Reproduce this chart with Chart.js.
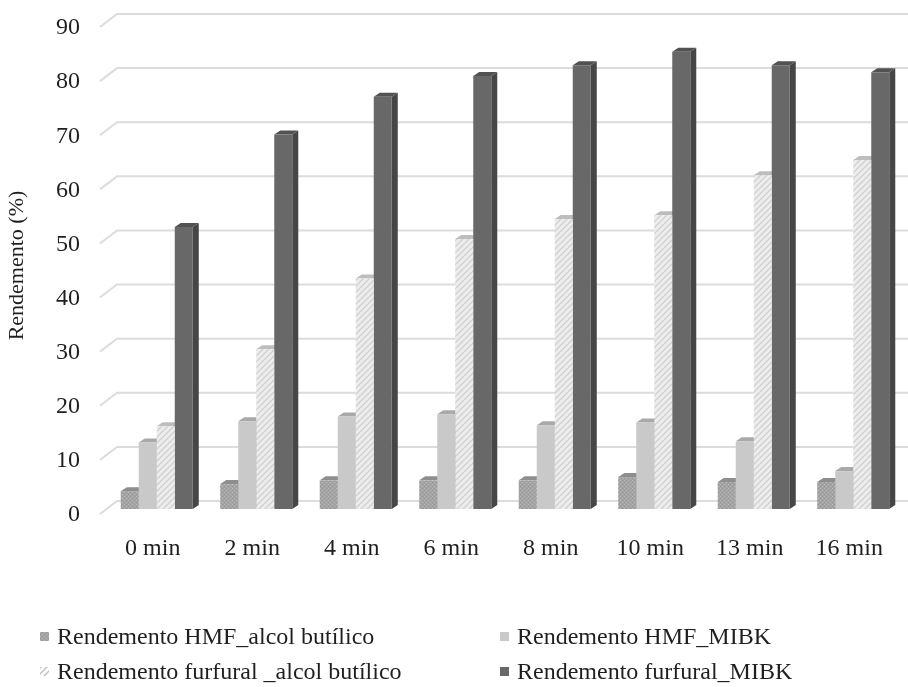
<!DOCTYPE html>
<html>
<head>
<meta charset="utf-8">
<script src="https://cdn.jsdelivr.net/npm/chart.js@4/dist/chart.umd.min.js"></script>
<style>
  html, body { margin: 0; padding: 0; background: #ffffff; }
  #wrap { width: 908px; height: 687px; }
</style>
</head>
<body>
<div id="wrap"><canvas id="c" width="908" height="687"></canvas></div>
<script>
// Reaction time categories
const categories = ['0 min', '2 min', '4 min', '6 min', '8 min', '10 min', '13 min', '16 min'];

// Yields (%) per series
const hmfButanol      = [3.3, 4.6, 5.3, 5.3, 5.3, 5.9, 5.0, 5.0];
const hmfMibk         = [12.3, 16.2, 17.1, 17.5, 15.5, 16.0, 12.5, 7.0];
const furfuralButanol = [15.3, 29.5, 42.6, 49.9, 53.6, 54.3, 61.7, 64.5];
const furfuralMibk    = [52.1, 69.2, 76.2, 80.0, 82.0, 84.5, 82.0, 80.7];

const seriesNames = [
  'Rendemento HMF_alcol butílico',
  'Rendemento HMF_MIBK',
  'Rendemento furfural _alcol butílico',
  'Rendemento furfural_MIBK'
];

// Value axis ticks
const yTicks = [0, 10, 20, 30, 40, 50, 60, 70, 80, 90];

const SERIF = "'Liberation Serif', 'DejaVu Serif', serif";
const TEXT = '#1f1f1f';

// Fill patterns
function stipplePattern() {
  const c = document.createElement('canvas');
  c.width = 4; c.height = 4;
  const g = c.getContext('2d');
  g.fillStyle = '#a3a3a3'; g.fillRect(0, 0, 4, 4);
  g.fillStyle = '#bababa'; g.fillRect(0, 0, 1, 1); g.fillRect(2, 2, 1, 1);
  g.fillStyle = '#989898'; g.fillRect(2, 0, 1, 1); g.fillRect(0, 2, 1, 1);
  return g.createPattern(c, 'repeat');
}
function hatchPattern(bg, fg) {
  const c = document.createElement('canvas');
  c.width = 6; c.height = 6;
  const g = c.getContext('2d');
  g.fillStyle = bg; g.fillRect(0, 0, 6, 6);
  g.strokeStyle = fg; g.lineWidth = 1.3;
  g.beginPath();
  g.moveTo(-1, 7); g.lineTo(7, -1);
  g.moveTo(-4, 4); g.lineTo(4, -4);
  g.moveTo(2, 10); g.lineTo(10, 2);
  g.stroke();
  return g.createPattern(c, 'repeat');
}

// Face styles: front fill, top face, side face
const faceStyles = [
  { front: stipplePattern(),                    top: '#8e8e8e', side: '#7a7a7a' },
  { front: '#c9c9c9',                           top: '#a9a9a9', side: '#9d9d9d' },
  { front: hatchPattern('#ededed', '#d0d0d0'),  top: '#bdbdbd', side: '#b0b0b0' },
  { front: '#686868',                           top: '#525252', side: '#464646' }
];
const legendSwatch = [faceStyles[0].front, faceStyles[1].front, hatchPattern('#ffffff', '#bdbdbd'), faceStyles[3].front];

// Oblique depth of the 3D look
const BAR_DX = 6, BAR_DY = 4;          // bar top/side faces
const BACK_DX = 10, BACK_DY = -8;      // back wall relative to bar plane
const FRONT_DX = -7, FRONT_DY = 5;     // front edge relative to bar plane

// Back-wall gridlines with their floor diagonals, then bar top/side faces
const wallPlugin = {
  id: 'wall',
  beforeDatasetsDraw(chart) {
    const { ctx, chartArea } = chart;
    const y = chart.scales.y;
    ctx.save();
    ctx.strokeStyle = '#dcdcdc';
    ctx.lineWidth = 2;
    yTicks.forEach(v => {
      const py = y.getPixelForValue(v);
      const fx = chartArea.left + FRONT_DX, fy = py + FRONT_DY;
      const bx = chartArea.left + BACK_DX, by = py + BACK_DY;
      ctx.beginPath();
      ctx.moveTo(fx, fy);
      ctx.lineTo(bx, by);
      ctx.lineTo(chart.width, by);
      ctx.stroke();
    });
    ctx.restore();

    ctx.save();
    chart.data.datasets.forEach((ds, di) => {
      const meta = chart.getDatasetMeta(di);
      const st = faceStyles[di];
      meta.data.forEach(bar => {
        const p = bar.getProps(['x', 'y', 'base', 'width'], true);
        const l = p.x - p.width / 2, r = p.x + p.width / 2;
        ctx.fillStyle = st.side;
        ctx.beginPath();
        ctx.moveTo(r, p.y);
        ctx.lineTo(r + BAR_DX, p.y - BAR_DY);
        ctx.lineTo(r + BAR_DX, p.base - BAR_DY);
        ctx.lineTo(r, p.base);
        ctx.closePath();
        ctx.fill();
        ctx.fillStyle = st.top;
        ctx.beginPath();
        ctx.moveTo(l, p.y);
        ctx.lineTo(l + BAR_DX, p.y - BAR_DY);
        ctx.lineTo(r + BAR_DX, p.y - BAR_DY);
        ctx.lineTo(r, p.y);
        ctx.closePath();
        ctx.fill();
      });
    });
    ctx.restore();
  }
};

// Two-column legend below the axis
const legendPlugin = {
  id: 'twoColLegend',
  afterDraw(chart) {
    const { ctx } = chart;
    const colX = [40, 500];
    const rowY = [637, 672];
    ctx.save();
    ctx.font = '24px ' + SERIF;
    ctx.textBaseline = 'middle';
    ctx.textAlign = 'left';
    chart.data.datasets.forEach((ds, i) => {
      const x = colX[i % 2], y = rowY[Math.floor(i / 2)];
      ctx.fillStyle = legendSwatch[i];
      ctx.fillRect(x, y - 5, 9, 9);
      ctx.fillStyle = TEXT;
      ctx.fillText(ds.label, x + 17, y + 1);
    });
    ctx.restore();
  }
};

const seriesValues = [hmfButanol, hmfMibk, furfuralButanol, furfuralMibk];

new Chart(document.getElementById('c'), {
  type: 'bar',
  data: {
    labels: categories,
    datasets: seriesValues.map((vals, i) => ({
      label: seriesNames[i],
      data: vals,
      backgroundColor: faceStyles[i].front,
      borderWidth: 0,
      barPercentage: 1,
      categoryPercentage: 0.724
    }))
  },
  options: {
    responsive: false,
    animation: false,
    layout: { padding: { top: 22, right: 5, bottom: 0, left: 0 } },
    plugins: {
      legend: { display: false },
      tooltip: { enabled: false }
    },
    scales: {
      x: {
        grid: { display: false, drawTicks: false },
        border: { display: false },
        ticks: {
          font: { family: SERIF, size: 24 },
          color: TEXT,
          padding: 25,
          labelOffset: -4,
          maxRotation: 0,
          autoSkip: false
        },
        afterFit(scale) { scale.height = 178; scale.paddingLeft = 0; scale.paddingRight = 0; }
      },
      y: {
        min: 0,
        max: 90,
        grid: { display: false, drawTicks: false },
        border: { display: false },
        afterBuildTicks(scale) { scale.ticks = yTicks.map(v => ({ value: v })); },
        ticks: {
          font: { family: SERIF, size: 24 },
          color: TEXT,
          padding: 27,
          labelOffset: 6
        },
        title: {
          display: true,
          text: 'Rendemento (%)',
          font: { family: SERIF, size: 22 },
          color: TEXT,
          padding: { top: 4, bottom: 0 }
        },
        afterFit(scale) { scale.width = 107; scale.paddingTop = 0; scale.paddingBottom = 0; }
      }
    }
  },
  plugins: [wallPlugin, legendPlugin]
});
</script>
</body>
</html>
